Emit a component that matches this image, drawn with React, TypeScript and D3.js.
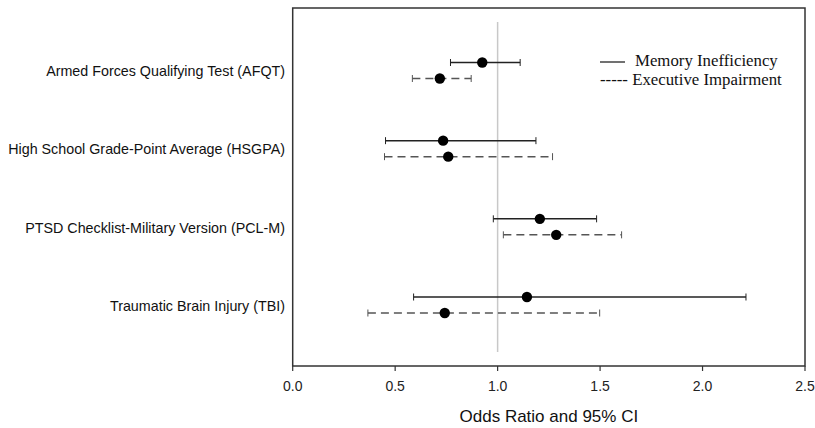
import * as d3 from "d3";
import React from "react";

// predictors, top to bottom
const categories = [
  "Armed Forces Qualifying Test (AFQT)",
  "High School Grade-Point Average (HSGPA)",
  "PTSD Checklist-Military Version (PCL-M)",
  "Traumatic Brain Injury (TBI)",
];

// Memory Inefficiency (solid)
const memoryOR = [0.925, 0.734, 1.206, 1.143];
const memoryLow = [0.77, 0.453, 0.979, 0.59];
const memoryHigh = [1.11, 1.187, 1.483, 2.212];

// Executive Impairment (dashed)
const execOR = [0.718, 0.759, 1.286, 0.742];
const execLow = [0.584, 0.448, 1.028, 0.367];
const execHigh = [0.871, 1.268, 1.605, 1.498];

const xTicks = [0, 0.5, 1.0, 1.5, 2.0, 2.5];

const W = 815, H = 428;
const left = 292.7, right = 805, top = 8, bottom = 366;

const App = () => {
  const x = d3.scaleLinear().domain([0, 2.5]).range([left, right]);
  const y = d3.scalePoint<string>().domain(categories).range([70.5, 305]);

  const series = [
    {name: "mem", or: memoryOR, lo: memoryLow, hi: memoryHigh, off: -8, dash: null, color: "#222"},
    {name: "exe", or: execOR, lo: execLow, hi: execHigh, off: 8, dash: "8,5", color: "#555"},
  ];

  return (
    <svg width={W} height={H} style={{position: "absolute", left: 0, top: 0, background: "#fff"}}
         fontFamily="Arial, 'Liberation Sans', sans-serif">
      {/* reference line at OR = 1 */}
      <line x1={x(1)} x2={x(1)} y1={22} y2={352} stroke="#c8c8c8" strokeWidth={1.5}/>

      {series.map(s => categories.map((c, i) => {
        const cy = (y(c) as number) + s.off;
        return (
          <g key={s.name + i}>
            <line x1={x(s.lo[i])} x2={x(s.hi[i])} y1={cy} y2={cy} stroke={s.color}
                  strokeWidth={1.5} strokeDasharray={s.dash ?? undefined}/>
            <line x1={x(s.lo[i])} x2={x(s.lo[i])} y1={cy - 3.5} y2={cy + 3.5} stroke={s.color} strokeWidth={1}/>
            <line x1={x(s.hi[i])} x2={x(s.hi[i])} y1={cy - 3.5} y2={cy + 3.5} stroke={s.color} strokeWidth={1}/>
            <circle cx={x(s.or[i])} cy={cy} r={5.2} fill="#000"/>
          </g>
        );
      }))}

      {/* frame */}
      <rect x={left} y={top} width={right - left} height={bottom - top} fill="none" stroke="#333" strokeWidth={1.5}/>

      {/* x axis ticks */}
      {xTicks.map(t => (
        <g key={t}>
          <line x1={x(t)} x2={x(t)} y1={bottom} y2={bottom + 5} stroke="#333" strokeWidth={1.2}/>
          <text x={x(t)} y={bottom + 21} textAnchor="middle" dominantBaseline="middle" fontSize={14} fill="#222">
            {d3.format(".1f")(t)}
          </text>
        </g>
      ))}
      <text x={x(1.25)} y={418} textAnchor="middle" dominantBaseline="middle" fontSize={17} fill="#111">
        Odds Ratio and 95% CI
      </text>

      {/* category labels */}
      {categories.map(c => (
        <text key={c} x={285} y={(y(c) as number) + 2} textAnchor="end" dominantBaseline="middle"
              fontSize={14.3} fill="#111">{c}</text>
      ))}

      {/* legend */}
      <g fontFamily="'Liberation Serif', 'Times New Roman', serif" fontSize={16.8} fill="#111">
        <line x1={600} x2={625} y1={62} y2={62} stroke="#111" strokeWidth={1.2}/>
        <text x={635} y={62} dominantBaseline="middle">Memory Inefficiency</text>
        <text x={600} y={81} dominantBaseline="middle">----- Executive Impairment</text>
      </g>
    </svg>
  );
};

export default App;
